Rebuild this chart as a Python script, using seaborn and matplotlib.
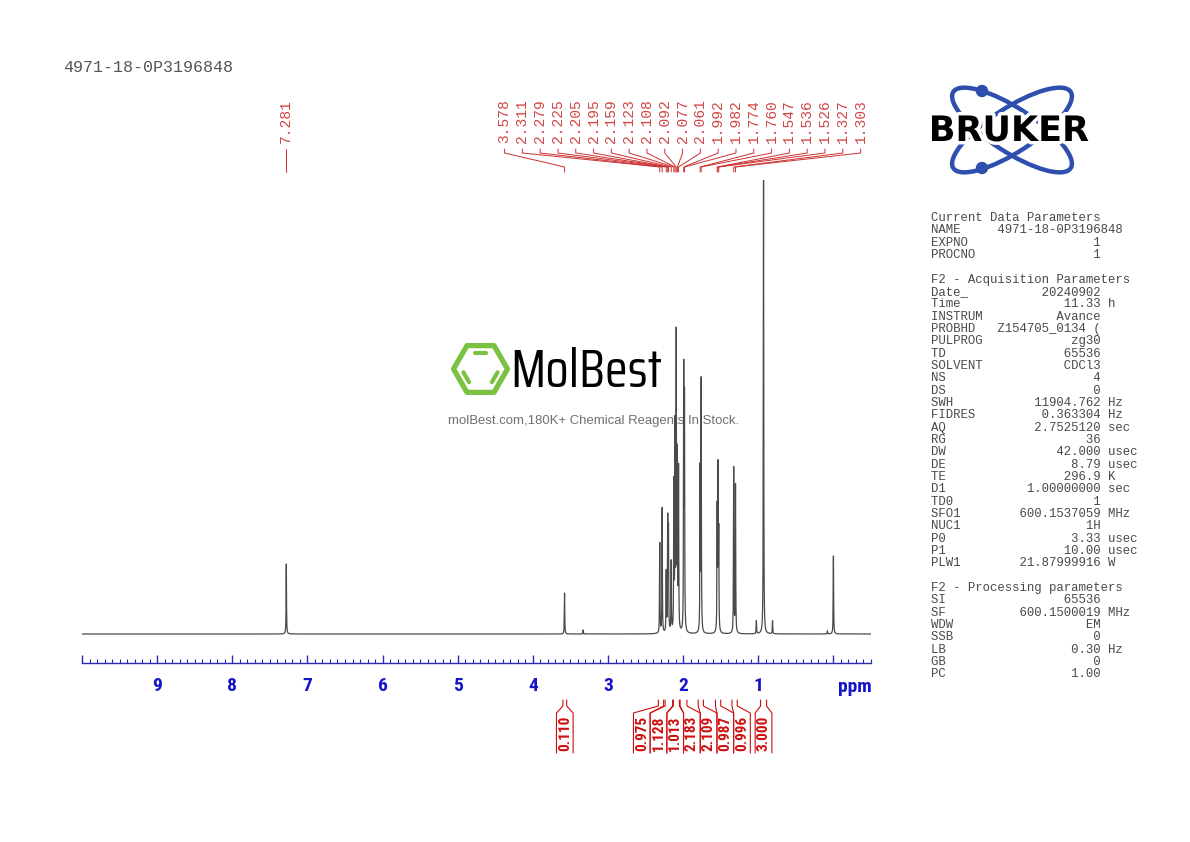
import numpy as np
import pandas as pd
import matplotlib
matplotlib.use('Agg')
import matplotlib.pyplot as plt
import seaborn as sns
from matplotlib import font_manager
from matplotlib.patches import Ellipse, Circle, RegularPolygon
from matplotlib.transforms import blended_transform_factory
import matplotlib.patheffects as pe

sample_name = '4971-18-0P3196848'

# peaks: shift (ppm) and height above baseline
peak_ppm = [7.281, 3.578, 3.330, 2.311, 2.279, 2.225, 2.205, 2.195, 2.159, 2.123, 2.108,
            2.092, 2.077, 2.061, 1.992, 1.982, 1.774, 1.760, 1.547, 1.536, 1.526, 1.327,
            1.303, 1.025, 0.930, 0.810, 0.080, 0.000]
peak_height = [70, 41, 4, 90, 125, 60, 110, 100, 70, 145, 200,
               290, 170, 160, 255, 225, 160, 250, 120, 158, 95, 165,
               148, 13, 460, 13, 3, 78]

# peak picking labels
label_single = [7.281]
label_group = [3.578, 2.311, 2.279, 2.225, 2.205, 2.195, 2.159, 2.123, 2.108, 2.092, 2.077,
               2.061, 1.992, 1.982, 1.774, 1.760, 1.547, 1.536, 1.526, 1.327, 1.303]

# integrals
integral_text = ['0.110', '0.975', '1.128', '1.013', '2.183', '2.109', '0.987', '0.996', '3.000']
integral_from = [3.60, 2.33, 2.24, 2.13, 2.04, 1.80, 1.57, 1.35, 0.97]
integral_to = [3.55, 2.26, 2.14, 2.05, 1.95, 1.73, 1.50, 1.28, 0.89]

tick_ppm = [9, 8, 7, 6, 5, 4, 3, 2, 1]
tick_text = ['9', '8', '7', '6', '5', '4', '3', '2', '1']

param_blocks = [
    ('Current Data Parameters', [
        ('NAME', '4971-18-0P3196848', ''), ('EXPNO', '1', ''), ('PROCNO', '1', '')]),
    ('F2 - Acquisition Parameters', [
        ('Date_', '20240902', ''), ('Time', '11.33', 'h'), ('INSTRUM', 'Avance', ''),
        ('PROBHD', 'Z154705_0134 (', ''), ('PULPROG', 'zg30', ''), ('TD', '65536', ''),
        ('SOLVENT', 'CDCl3', ''), ('NS', '4', ''), ('DS', '0', ''),
        ('SWH', '11904.762', 'Hz'), ('FIDRES', '0.363304', 'Hz'), ('AQ', '2.7525120', 'sec'),
        ('RG', '36', ''), ('DW', '42.000', 'usec'), ('DE', '8.79', 'usec'),
        ('TE', '296.9', 'K'), ('D1', '1.00000000', 'sec'), ('TD0', '1', ''),
        ('SFO1', '600.1537059', 'MHz'), ('NUC1', '1H', ''), ('P0', '3.33', 'usec'),
        ('P1', '10.00', 'usec'), ('PLW1', '21.87999916', 'W')]),
    ('F2 - Processing parameters', [
        ('SI', '65536', ''), ('SF', '600.1500019', 'MHz'), ('WDW', 'EM', ''),
        ('SSB', '0', ''), ('LB', '0.30', 'Hz'), ('GB', '0', ''), ('PC', '1.00', '')]),
]

sns.set_style('white')
ttf = font_manager.fontManager.ttflist
installed = {f.name for f in ttf}
has_bold = {f.name for f in ttf
            if (isinstance(f.weight, int) and f.weight >= 600)
            or f.weight in ('bold', 'heavy', 'black', 'semibold', 'demibold', 'extra bold')}


def pick(names, pool):
    for n in names:
        if n in pool:
            return n
    return 'DejaVu Sans'


narrow_b = pick(['Liberation Sans Narrow', 'Arial Narrow', 'Roboto Condensed',
                 'Fira Sans Condensed', 'Barlow Condensed', 'PT Sans Narrow',
                 'Archivo Narrow', 'IBM Plex Sans Condensed', 'Liberation Sans'], has_bold)
logo_font = pick(['Saira Extra Condensed', 'Saira Condensed', 'Teko', 'Oswald'], installed)
mono = 'Liberation Mono'
plt.rcParams['font.family'] = ['DejaVu Sans']

W, H = 1190, 842
fig = plt.figure(figsize=(W / 100, H / 100), dpi=100)
fig.patch.set_facecolor('white')

over = fig.add_axes([0, 0, 1, 1], zorder=1)
over.set_xlim(0, W)
over.set_ylim(H, 0)
over.axis('off')
over.patch.set_alpha(0)

x0, x1, ytop, ybot = 82, 871, 180, 663
ax = fig.add_axes([x0 / W, 1 - ybot / H, (x1 - x0) / W, (ybot - ytop) / H], zorder=3)
ax.patch.set_alpha(0)

grid = np.union1d(np.arange(-0.5, 10.0, 0.0005), peak_ppm)
hw = 0.003
inten = np.zeros_like(grid)
for p, h in zip(peak_ppm, peak_height):
    inten += h / (1 + ((grid - p) / hw) ** 2)
spec = pd.DataFrame({'ppm': grid, 'intensity': inten})
sns.lineplot(data=spec, x='ppm', y='intensity', estimator=None, sort=False,
             color='#4a4a4a', linewidth=0.9, ax=ax)

ax.set_xlim(10.0, -0.5)
ax.set_ylim(-29, ybot - ytop - 29)
for s in ['top', 'left', 'right']:
    ax.spines[s].set_visible(False)
axis_blue = '#2a2ab5'
ax.spines['bottom'].set_color(axis_blue)
ax.spines['bottom'].set_linewidth(1.0)
ax.set_xticks(list(range(10, -1, -1)))
ax.set_xticklabels([''] + tick_text + [''], fontsize=14, fontweight='bold',
                   family=narrow_b, color='#1414c8')
ax.set_xticks(np.arange(-0.5, 10.0001, 0.1), minor=True)
ax.tick_params(axis='x', which='both', bottom=True)
ax.tick_params(axis='x', which='major', direction='in', length=6, width=1.0,
               color=axis_blue, pad=10)
ax.tick_params(axis='x', which='minor', direction='in', length=3, width=0.8,
               color=axis_blue)
ax.set_yticks([])
ax.set_xlabel('')
ax.set_ylabel('')
ax.text(-0.28, -0.05, 'ppm', transform=ax.get_xaxis_transform(), ha='center', va='center',
        fontsize=14, fontweight='bold', family=narrow_b, color='#1414c8')

trans = blended_transform_factory(ax.transData, over.transData)
ppm_per_px = 10.5 / (x1 - x0)


def spread(centers, gap):
    def place(cl):
        m, n = np.mean(cl), len(cl)
        return [m + gap * ((n - 1) / 2 - i) for i in range(n)]
    clusters = []
    for c in centers:
        clusters.append([c])
        while len(clusters) > 1:
            a, b = place(clusters[-2]), place(clusters[-1])
            if a[-1] - b[0] < gap:
                clusters[-2:] = [clusters[-2] + clusters[-1]]
            else:
                break
    out = []
    for cl in clusters:
        out += place(cl)
    return out


lab_red = '#d04545'
for group in [label_single, label_group]:
    pos = spread(group, 17.8 * ppm_per_px)
    for pk, lp in zip(group, pos):
        over.plot([lp, lp, pk, pk], [149, 153, 167, 172], transform=trans,
                  color='#cc3030', lw=0.7)
        over.text(lp, 143, f'{pk:.3f}', transform=trans, rotation=90, ha='center',
                  va='bottom', fontsize=10.5, family=mono, color=lab_red)

int_red = '#cc1010'
mids = [(a + b) / 2 for a, b in zip(integral_from, integral_to)]
box = 16.7 * ppm_per_px
ipos = spread(mids, box)
for a, b, c, t in zip(integral_from, integral_to, ipos, integral_text):
    over.plot([a, a, c + box / 2, c + box / 2], [700, 706, 713, 753], transform=trans,
              color=int_red, lw=0.8)
    over.plot([b, b, c - box / 2, c - box / 2], [700, 706, 713, 753], transform=trans,
              color=int_red, lw=0.8)
    over.text(c, 733, t, transform=trans, rotation=90, ha='center', va='center',
              fontsize=11, fontweight='bold', family=narrow_b, color=int_red)

over.text(63, 68, sample_name, ha='left', va='center', fontsize=12, family=mono,
          color='#555555')

grey = '#4a4a4a'
y = 218
for head, rows in param_blocks:
    over.text(931, y, head, ha='left', va='center', fontsize=8.9, family=mono, color=grey)
    y += 12.33
    for name, val, unit in rows:
        line = f'{name:<9}{val:>14} {unit}'.rstrip()
        over.text(931, y, line, ha='left', va='center', fontsize=8.9, family=mono,
                  color=grey)
        y += 12.33
    y += 12.33

renderer = fig.canvas.get_renderer()


def fit_width(t, target):
    bb = t.get_window_extent(renderer)
    t.set_fontsize(t.get_fontsize() * target / bb.width)


blue = '#2f4fae'
for ang in (33, -33):
    over.add_patch(Ellipse((1012, 130), 140, 44, angle=ang, fill=False,
                           edgecolor=blue, lw=3.2))
over.add_patch(Circle((982, 91), 5.5, color=blue))
over.add_patch(Circle((982, 168), 5.5, color=blue))
bt = over.text(1009, 131, 'BRUKER', ha='center', va='center', fontsize=20, fontweight='bold',
               family='DejaVu Sans', color='black',
               path_effects=[pe.withStroke(linewidth=5, foreground='white')])
fit_width(bt, 160)

green = '#7cc242'
hx, hy, hr = 480.5, 369, 27
over.add_patch(RegularPolygon((hx, hy), 6, radius=hr, orientation=np.pi / 6,
                              fill=False, edgecolor=green, lw=3.8, joinstyle='round'))
for k in (1, 3, 5):
    a0 = np.pi / 3 * (k - 1)
    a1 = np.pi / 3 * k
    ri = hr - 8
    p0 = np.array([hx + ri * np.cos(a0), hy + ri * np.sin(a0)])
    p1 = np.array([hx + ri * np.cos(a1), hy + ri * np.sin(a1)])
    d = p1 - p0
    q0, q1 = p0 + 0.2 * d, p1 - 0.2 * d
    over.plot([q0[0], q1[0]], [q0[1], q1[1]], color=green, lw=3, solid_capstyle='round')
mt = over.text(510, 372, 'MolBest', ha='left', va='center', fontsize=40, family=logo_font,
               color='black')
fit_width(mt, 152)
st = over.text(594, 421, 'molBest.com,180K+ Chemical Reagents In Stock.', ha='center',
               va='center', fontsize=9.5, family='Liberation Sans', color='#707070')
fit_width(st, 292)

fig.savefig('out.png', dpi=100)
